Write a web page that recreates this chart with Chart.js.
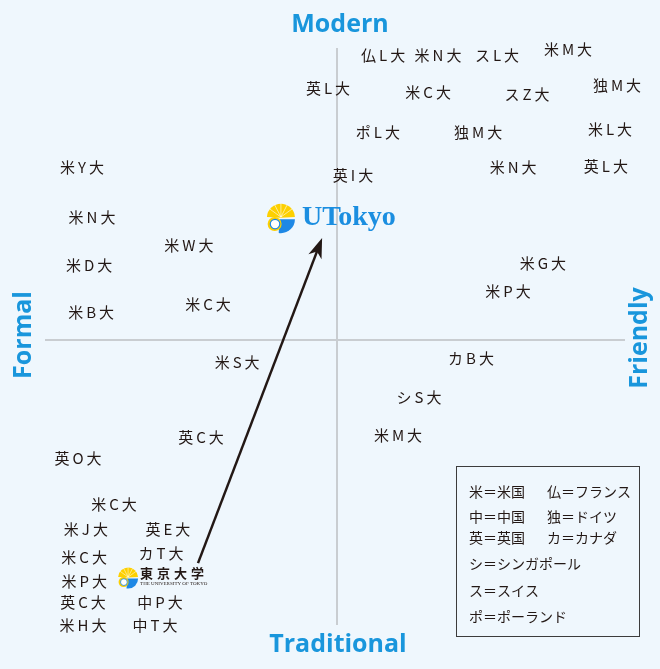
<!DOCTYPE html>
<html>
<head>
<meta charset="utf-8">
<script src="https://cdn.jsdelivr.net/npm/chart.js@4/dist/chart.umd.min.js"></script>
<style>
  html, body { margin: 0; padding: 0; background: #eff7fd; }
  canvas { display: block; }
</style>
</head>
<body>
<canvas id="posMap" width="660" height="669"></canvas>
<script>
// universities: label, x (Formal -10 .. Friendly +10), y (Traditional -10 .. Modern +10)
const univLabels = [
  '仏L大', '米N大', 'スL大', '米M大', '英L大', '米C大', 'スZ大', '独M大',
  'ポL大', '独M大', '米L大', '英I大', '米N大', '英L大',
  '米Y大', '米N大', '米W大', '米D大', '米B大', '米C大',
  '米G大', '米P大', 'カB大', 'シS大', '米M大', '米S大', '英C大',
  '英O大', '米C大', '米J大', '英E大', '米C大', 'カT大', '米P大',
  '英C大', '中P大', '米H大', '中T大'
];
const univX = [
  1.58, 3.46, 5.48, 7.91, -0.31, 3.12, 6.51, 9.59,
  1.40, 4.83, 9.35, 0.55, 6.03, 9.21,
  -8.73, -8.39, -5.07, -8.49, -8.42, -4.42,
  7.05, 5.86, 4.59, 2.81, 2.09, -3.42, -4.66,
  -8.87, -7.64, -8.60, -5.79, -8.66, -6.03, -8.66,
  -8.70, -6.06, -8.70, -6.23
];
const univY = [
  9.76, 9.76, 9.76, 9.97, 8.63, 8.49, 8.42, 8.73,
  7.12, 7.12, 7.23, 5.65, 5.92, 5.96,
  5.92, 4.21, 3.25, 2.57, 0.96, 1.23,
  2.64, 1.68, -0.62, -1.95, -3.25, -0.75, -3.32,
  -4.04, -5.62, -6.47, -6.47, -7.43, -7.29, -8.25,
  -8.97, -8.97, -9.76, -9.76
];

// UTokyo now (東京大学) and target (UTokyo)
const nowPos = { x: -5.99, y: -8.12 };
const targetPos = { x: -0.14, y: 4.21 };
const arrowFrom = { x: -4.76, y: -7.64 };
const arrowTo = { x: -0.51, y: 3.49 };

const axisTitles = ['Modern', 'Traditional', 'Formal', 'Friendly'];

const legendRows = [
  ['米＝米国', '仏＝フランス'],
  ['中＝中国', '独＝ドイツ'],
  ['英＝英国', 'カ＝カナダ'],
  ['シ＝シンガポール'],
  ['ス＝スイス'],
  ['ポ＝ポーランド']
];

const INK = '#231815';
const BLUE = '#1996dc';
const CJK = '"Noto Sans CJK JP", "Noto Sans", sans-serif';

function drawIcon(ctx, x, y, r) {
  ctx.save();
  // yellow fan
  ctx.fillStyle = '#fdd000';
  ctx.beginPath();
  ctx.moveTo(x, y + r * 0.05);
  ctx.arc(x, y + r * 0.05, r, Math.PI * 1.02, Math.PI * 1.98);
  ctx.closePath();
  ctx.fill();
  ctx.strokeStyle = '#ffffff';
  ctx.lineWidth = Math.max(0.5, r / 24);
  for (let a = 1.2; a < 1.85; a += 0.15) {
    ctx.beginPath();
    ctx.moveTo(x, y);
    ctx.lineTo(x + Math.cos(Math.PI * a) * r, y + Math.sin(Math.PI * a) * r);
    ctx.stroke();
  }
  // blue lower right
  ctx.fillStyle = '#1e88e5';
  ctx.beginPath();
  ctx.moveTo(x - r * 0.1, y + r * 0.15);
  ctx.lineTo(x + r, y + r * 0.15);
  ctx.arc(x, y + r * 0.15, r, 0, Math.PI * 0.55);
  ctx.closePath();
  ctx.fill();
  // yellow ring + white ball lower left
  ctx.fillStyle = '#fdd000';
  ctx.beginPath();
  ctx.arc(x - r * 0.45, y + r * 0.5, r * 0.5, 0, Math.PI * 2);
  ctx.fill();
  ctx.fillStyle = '#ffffff';
  ctx.strokeStyle = '#1e88e5';
  ctx.lineWidth = Math.max(0.8, r / 12);
  ctx.beginPath();
  ctx.arc(x - r * 0.42, y + r * 0.5, r * 0.34, 0, Math.PI * 2);
  ctx.fill();
  ctx.stroke();
  ctx.restore();
}

const mapPlugin = {
  id: 'positionMap',
  beforeDraw(chart) {
    const { ctx, chartArea: a, scales: { x, y } } = chart;
    ctx.save();
    ctx.fillStyle = '#eff7fd';
    ctx.fillRect(0, 0, chart.width, chart.height);
    // cross axes
    const x0 = x.getPixelForValue(0);
    const y0 = y.getPixelForValue(0);
    ctx.strokeStyle = '#c9cdd1';
    ctx.lineWidth = 2;
    ctx.beginPath();
    ctx.moveTo(a.left, y0);
    ctx.lineTo(a.right - 4, y0);
    ctx.moveTo(x0, a.top);
    ctx.lineTo(x0, a.bottom - 7);
    ctx.stroke();
    // axis titles
    ctx.fillStyle = BLUE;
    ctx.font = 'bold 25px "Open Sans", "Noto Sans", sans-serif';
    ctx.textAlign = 'center';
    ctx.textBaseline = 'middle';
    ctx.fillText(axisTitles[0], x0 + 3, 25);
    ctx.fillText(axisTitles[1], x0 + 1, 645);
    ctx.save();
    ctx.translate(24, y0 - 5);
    ctx.rotate(-Math.PI / 2);
    ctx.fillText(axisTitles[2], 0, 0);
    ctx.restore();
    ctx.save();
    ctx.translate(640, y0 - 2);
    ctx.rotate(-Math.PI / 2);
    ctx.fillText(axisTitles[3], 0, 0);
    ctx.restore();
    ctx.restore();
  },
  afterDatasetsDraw(chart) {
    const { ctx, scales: { x, y } } = chart;
    ctx.save();
    // university labels
    ctx.fillStyle = INK;
    ctx.font = '15px ' + CJK;
    ctx.textAlign = 'center';
    ctx.textBaseline = 'middle';
    ctx.letterSpacing = '3px';
    const meta = chart.getDatasetMeta(0);
    meta.data.forEach((pt, i) => {
      ctx.fillText(univLabels[i], pt.x + 1.5, pt.y);
    });
    ctx.letterSpacing = '0px';

    // arrow
    const ax1 = x.getPixelForValue(arrowFrom.x), ay1 = y.getPixelForValue(arrowFrom.y);
    const ax2 = x.getPixelForValue(arrowTo.x), ay2 = y.getPixelForValue(arrowTo.y);
    const ang = Math.atan2(ay2 - ay1, ax2 - ax1);
    const headLen = 20, headW = 7;
    ctx.strokeStyle = INK;
    ctx.lineWidth = 2.5;
    ctx.beginPath();
    ctx.moveTo(ax1, ay1);
    ctx.lineTo(ax2 - Math.cos(ang) * headLen * 0.7, ay2 - Math.sin(ang) * headLen * 0.7);
    ctx.stroke();
    ctx.fillStyle = INK;
    ctx.beginPath();
    ctx.moveTo(ax2, ay2);
    ctx.lineTo(ax2 - Math.cos(ang) * headLen - Math.sin(ang) * headW,
               ay2 - Math.sin(ang) * headLen + Math.cos(ang) * headW);
    ctx.lineTo(ax2 - Math.cos(ang) * headLen * 0.72, ay2 - Math.sin(ang) * headLen * 0.72);
    ctx.lineTo(ax2 - Math.cos(ang) * headLen + Math.sin(ang) * headW,
               ay2 - Math.sin(ang) * headLen - Math.cos(ang) * headW);
    ctx.closePath();
    ctx.fill();

    // UTokyo target logo
    const tx = x.getPixelForValue(targetPos.x), ty = y.getPixelForValue(targetPos.y);
    drawIcon(ctx, tx - 52, ty, 14);
    ctx.fillStyle = '#1b8ee0';
    ctx.font = '600 28px "Liberation Serif", "DejaVu Serif", serif';
    ctx.textAlign = 'left';
    ctx.textBaseline = 'middle';
    ctx.fillText('UTokyo', tx - 31, ty + 1);

    // 東京大学 current logo
    const nx = x.getPixelForValue(nowPos.x), ny = y.getPixelForValue(nowPos.y);
    drawIcon(ctx, nx - 34, ny, 10);
    ctx.fillStyle = INK;
    ctx.font = 'bold 13px ' + CJK;
    ctx.letterSpacing = '4px';
    ctx.fillText('東京大学', nx - 22, ny - 4);
    ctx.letterSpacing = '0px';
    ctx.font = '5px "Liberation Serif", serif';
    ctx.fillText('THE UNIVERSITY OF TOKYO', nx - 22, ny + 7);

    // legend box
    ctx.strokeStyle = '#3c3c3c';
    ctx.lineWidth = 1;
    ctx.strokeRect(456.5, 466.5, 183, 170);
    ctx.fillStyle = INK;
    ctx.font = '14px ' + CJK;
    ctx.textBaseline = 'middle';
    const rowY = [492, 517, 538, 564, 591, 617];
    legendRows.forEach((row, i) => {
      ctx.fillText(row[0], 469, rowY[i]);
      if (row[1]) ctx.fillText(row[1], 547, rowY[i]);
    });
    ctx.restore();
  }
};

const ctx = document.getElementById('posMap').getContext('2d');
new Chart(ctx, {
  type: 'scatter',
  data: {
    datasets: [
      {
        label: 'universities',
        data: univX.map((v, i) => ({ x: v, y: univY[i] })),
        pointRadius: 0,
        pointHoverRadius: 0,
      },
    ],
  },
  options: {
    responsive: false,
    animation: false,
    layout: {
      padding: { left: 45, right: 31, top: 48, bottom: 37 },
    },
    scales: {
      x: { display: false, min: -10, max: 10 },
      y: { display: false, min: -10, max: 10 },
    },
    plugins: {
      legend: { display: false },
      tooltip: { enabled: false },
    },
  },
  plugins: [mapPlugin],
});
</script>
</body>
</html>
